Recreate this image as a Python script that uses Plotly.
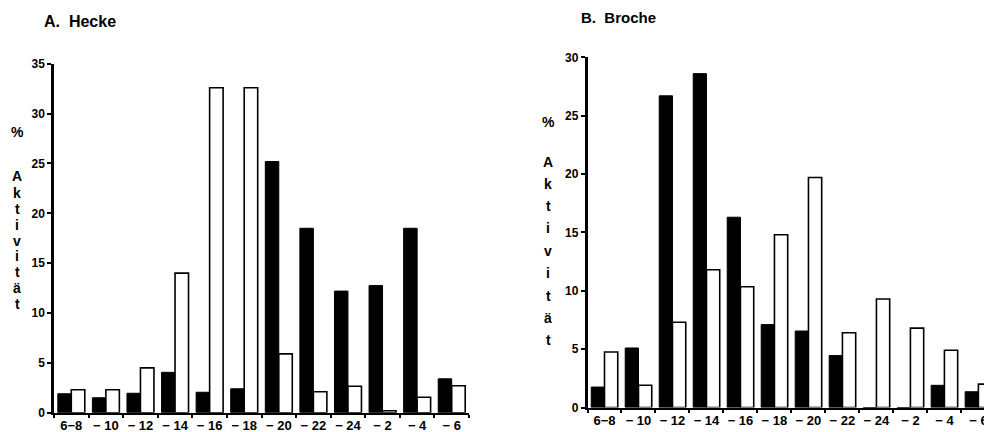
import plotly.graph_objects as go

categories = ["6−8", "− 10", "− 12", "− 14", "− 16", "− 18",
              "− 20", "− 22", "− 24", "− 2", "− 4", "− 6"]

hecke_black = [1.9, 1.5, 1.95, 4.05, 2.05, 2.4, 25.2, 18.5, 12.2, 12.75, 18.5, 3.4]
hecke_white = [2.3, 2.3, 4.5, 14.0, 32.6, 32.6, 5.9, 2.1, 2.65, 0.2, 1.55, 2.7]

brache_black = [1.75, 5.1, 26.7, 28.6, 16.3, 7.1, 6.55, 4.45, 0.0, 0.0, 1.9, 1.35]
brache_white = [4.75, 1.9, 7.3, 11.8, 10.35, 14.8, 19.7, 6.4, 9.3, 6.8, 4.9, 2.0]

left_yticks = [0, 5, 10, 15, 20, 25, 30, 35]
right_yticks = [0, 5, 10, 15, 20, 25, 30]

# the page body has an 8px margin; the figure is sized to fill the rest of the window
OFF = 8
W, H = 992 - OFF, 432 - OFF
FONT = "Liberation Sans"

def px(x):
    return (x - OFF) / W

def py(y):
    return 1 - (y - OFF) / H

fig = go.Figure()

fig.add_trace(go.Bar(x=categories, y=hecke_black, xaxis="x", yaxis="y",
                     marker=dict(color="black", line=dict(color="black", width=1)),
                     showlegend=False))
fig.add_trace(go.Bar(x=categories, y=hecke_white, xaxis="x", yaxis="y",
                     marker=dict(color="white", line=dict(color="black", width=1.6)),
                     showlegend=False))
fig.add_trace(go.Bar(x=categories, y=brache_black, xaxis="x2", yaxis="y2",
                     marker=dict(color="black", line=dict(color="black", width=1)),
                     showlegend=False))
fig.add_trace(go.Bar(x=categories, y=brache_white, xaxis="x2", yaxis="y2",
                     marker=dict(color="white", line=dict(color="black", width=1.6)),
                     showlegend=False))

tickfont = dict(family=FONT, size=13, color="black", weight="bold")
ytickfont = dict(family=FONT, size=12, color="black", weight="bold")

xcommon = dict(type="category", tickson="boundaries", ticks="outside", ticklen=3,
               tickwidth=2, tickcolor="black", showline=True, linecolor="black",
               linewidth=2, showgrid=False, zeroline=False, tickfont=tickfont,
               tickangle=0, automargin=False, fixedrange=True)
ycommon = dict(ticks="outside", ticklen=4, tickwidth=2, tickcolor="black",
               showline=True, linecolor="black", linewidth=2.5, showgrid=False,
               zeroline=False, tickfont=ytickfont, tickmode="array", automargin=False)

fig.update_layout(
    width=W, height=H,
    margin=dict(l=0, r=0, t=0, b=0, pad=0),
    paper_bgcolor="white", plot_bgcolor="white",
    barmode="group", bargap=0.22, bargroupgap=0,
    xaxis=dict(domain=[px(54), px(469)], anchor="y", range=[-0.5, 11.5], **xcommon),
    yaxis=dict(domain=[py(412.7), py(63.8)], anchor="x", range=[0, 35],
               tickvals=left_yticks, **ycommon),
    xaxis2=dict(domain=[px(587.5), 1.0], anchor="y2", range=[-0.5, 11.4], **xcommon),
    yaxis2=dict(domain=[py(407.5), py(57.3)], anchor="x2", range=[0, 30],
                tickvals=right_yticks, **ycommon),
    yaxis3=dict(domain=[py(412.7), py(63.8)], anchor="x", overlaying="y", range=[0, 35],
                tickmode="array", tickvals=left_yticks, ticks="inside", ticklen=4,
                tickwidth=2, tickcolor="black", showticklabels=False, showline=False,
                showgrid=False, zeroline=False, automargin=False),
    yaxis4=dict(domain=[py(407.5), py(57.3)], anchor="x2", overlaying="y2", range=[0, 30],
                tickmode="array", tickvals=right_yticks, ticks="inside", ticklen=4,
                tickwidth=2, tickcolor="black", showticklabels=False, showline=False,
                showgrid=False, zeroline=False, automargin=False),
)

annotations = []
annotations.append(dict(text="A.  Hecke", x=px(42), y=py(21), xref="paper", yref="paper",
                        xanchor="left", yanchor="middle", showarrow=False,
                        font=dict(family=FONT, size=16, color="black", weight="bold")))
annotations.append(dict(text="B.  Broche", x=px(579), y=py(17), xref="paper", yref="paper",
                        xanchor="left", yanchor="middle", showarrow=False,
                        font=dict(family=FONT, size=15, color="black", weight="bold")))

label_chars = ["%", "A", "k", "t", "i", "v", "i", "t", "ä", "t"]
left_pos = [132, 176, 193, 209, 225, 241, 256, 272, 288, 304]
right_pos = [122, 162, 184, 206, 228, 251, 273, 296, 318, 340]
for ch, yy in zip(label_chars, left_pos):
    annotations.append(dict(text=ch, x=px(17), y=py(yy), xref="paper", yref="paper",
                            xanchor="center", yanchor="middle", showarrow=False,
                            font=dict(family=FONT, size=14, color="black", weight="bold")))
for ch, yy in zip(label_chars, right_pos):
    annotations.append(dict(text=ch, x=px(548), y=py(yy), xref="paper", yref="paper",
                            xanchor="center", yanchor="middle", showarrow=False,
                            font=dict(family=FONT, size=14, color="black", weight="bold")))

fig.update_layout(annotations=annotations)

fig.write_html("out.html")
